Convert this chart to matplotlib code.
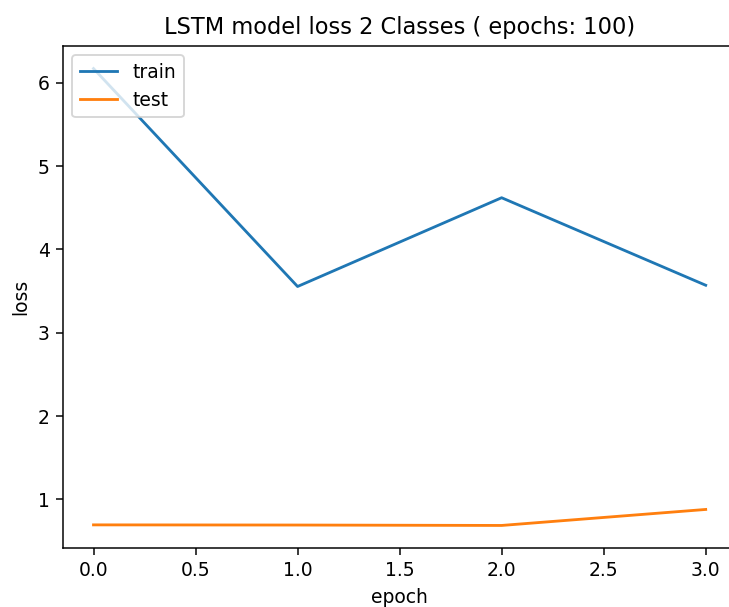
import matplotlib
matplotlib.use('Agg')
import matplotlib.pyplot as plt

# loss history per epoch
epochs = [0, 1, 2, 3]
train_loss = [6.17, 3.555, 4.62, 3.57]
test_loss = [0.695, 0.693, 0.688, 0.88]

W, H = 729, 607
DPI = 135
fig = plt.figure(figsize=(W / DPI, H / DPI), dpi=DPI)
# axes box in pixels: the right side runs past the saved image edge
left, right, top, bottom = 62.9, 736.3, 45.7, 548.3
ax = fig.add_axes([left / W, 1 - bottom / H, (right - left) / W, (bottom - top) / H])

ax.plot(epochs, train_loss, label='train')
ax.plot(epochs, test_loss, label='test')
ax.set_title('LSTM model loss 2 Classes ( epochs: 100)')
ax.set_ylabel('loss')
ax.set_xlabel('epoch')
ax.legend(loc='upper left')

plt.savefig('out.png', dpi=DPI)
